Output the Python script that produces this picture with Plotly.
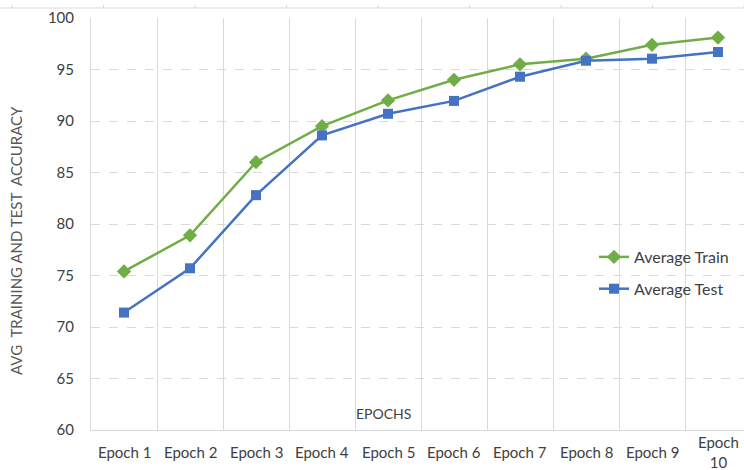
import plotly.graph_objects as go

# Accuracy per epoch
epochs = ["Epoch 1", "Epoch 2", "Epoch 3", "Epoch 4", "Epoch 5",
          "Epoch 6", "Epoch 7", "Epoch 8", "Epoch 9", "Epoch 10"]
epoch_labels = ["Epoch 1", "Epoch 2", "Epoch 3", "Epoch 4", "Epoch 5",
                "Epoch 6", "Epoch 7", "Epoch 8", "Epoch 9", "Epoch<br>10"]
avg_train = [75.4, 78.9, 86.0, 89.5, 92.0, 94.0, 95.5, 96.05, 97.4, 98.1]
avg_test = [71.4, 75.7, 82.8, 88.6, 90.7, 91.95, 94.3, 95.85, 96.05, 96.7]
y_ticks = [60, 65, 70, 75, 80, 85, 90, 95, 100]

W, H = 744, 470
ML, MR, MT, MB = 91, 0, 18, 40
plot_w = W - ML - MR
plot_h = H - MT - MB
cat_px = 66.0  # width of one category band

FONT = "Lato, 'Open Sans', sans-serif"
GRID = "#d9d9d9"
TXT = "#404040"

fig = go.Figure()
fig.add_trace(go.Scatter(
    x=epochs, y=avg_train, name="Average Train", mode="lines+markers",
    line=dict(color="#70ad47", width=2.5),
    marker=dict(symbol="diamond", size=11, color="#70ad47"),
    legendgroup="train",
))
fig.add_trace(go.Scatter(
    x=epochs, y=avg_test, name="Average Test", mode="lines+markers",
    line=dict(color="#4472c4", width=2.5),
    marker=dict(symbol="square", size=10, color="#4472c4"),
    legendgroup="test",
))

# category range so that the last band runs past the right edge
x_hi = plot_w / cat_px - 0.5

annotations = []
for cat, lab in zip(epochs, epoch_labels):
    annotations.append(dict(
        x=cat, xref="x", y=0, yref="paper", yshift=-22,
        text=lab, showarrow=False, xanchor="center", yanchor="middle",
        font=dict(family=FONT, size=15, color=TXT),
    ))
annotations.append(dict(
    x=(383 - ML) / plot_w, xref="paper", y=(H - MB - 413) / plot_h, yref="paper",
    text="EPOCHS", showarrow=False, xanchor="center", yanchor="middle",
    font=dict(family=FONT, size=14, color=TXT),
))
annotations.append(dict(
    x=(16 - ML) / plot_w, xref="paper", y=(H - MB - 241) / plot_h, yref="paper",
    text="AVG&nbsp; TRAINING AND TEST&nbsp; ACCURACY", textangle=-90, showarrow=False,
    xanchor="center", yanchor="middle",
    font=dict(family=FONT, size=15, color="#595959"),
))

# thin ruler along the top edge
shapes = []
y_top = (H - MB - 8) / plot_h
shapes.append(dict(type="line", xref="paper", yref="paper",
                   x0=-ML / plot_w, x1=1, y0=y_top, y1=y_top,
                   line=dict(color=GRID, width=1)))
for k in range(9):
    px = 12 + 91.5 * k
    xp = (px - ML) / plot_w
    shapes.append(dict(type="line", xref="paper", yref="paper",
                       x0=xp, x1=xp, y0=y_top, y1=y_top + 3 / plot_h,
                       line=dict(color=GRID, width=1)))

fig.update_layout(
    width=W, height=H,
    margin=dict(l=ML, r=MR, t=MT, b=MB),
    paper_bgcolor="white", plot_bgcolor="white",
    font=dict(family=FONT, size=15, color=TXT),
    xaxis=dict(
        type="category", range=[-0.5, x_hi], tickson="boundaries",
        showgrid=True, gridcolor=GRID, gridwidth=1,
        showticklabels=False, ticks="",
        showline=True, linecolor=GRID, linewidth=1, mirror=False,
        zeroline=False, fixedrange=True,
    ),
    yaxis=dict(
        range=[60, 100], tickvals=y_ticks,
        showgrid=True, gridcolor=GRID, gridwidth=1, griddash="dash",
        showline=True, linecolor=GRID, linewidth=1,
        ticks="", ticklabelstandoff=13,
        tickfont=dict(family=FONT, size=15, color=TXT),
        zeroline=False, fixedrange=True,
    ),
    legend=dict(
        x=(594 - ML) / plot_w, xanchor="left",
        y=(H - MB - 240) / plot_h, yanchor="top",
        bgcolor="rgba(0,0,0,0)", borderwidth=0,
        font=dict(family=FONT, size=16, color=TXT),
        traceorder="grouped", tracegroupgap=8,
        itemwidth=30,
    ),
    annotations=annotations,
    shapes=shapes,
    showlegend=True,
)

fig.write_html("out.html")
